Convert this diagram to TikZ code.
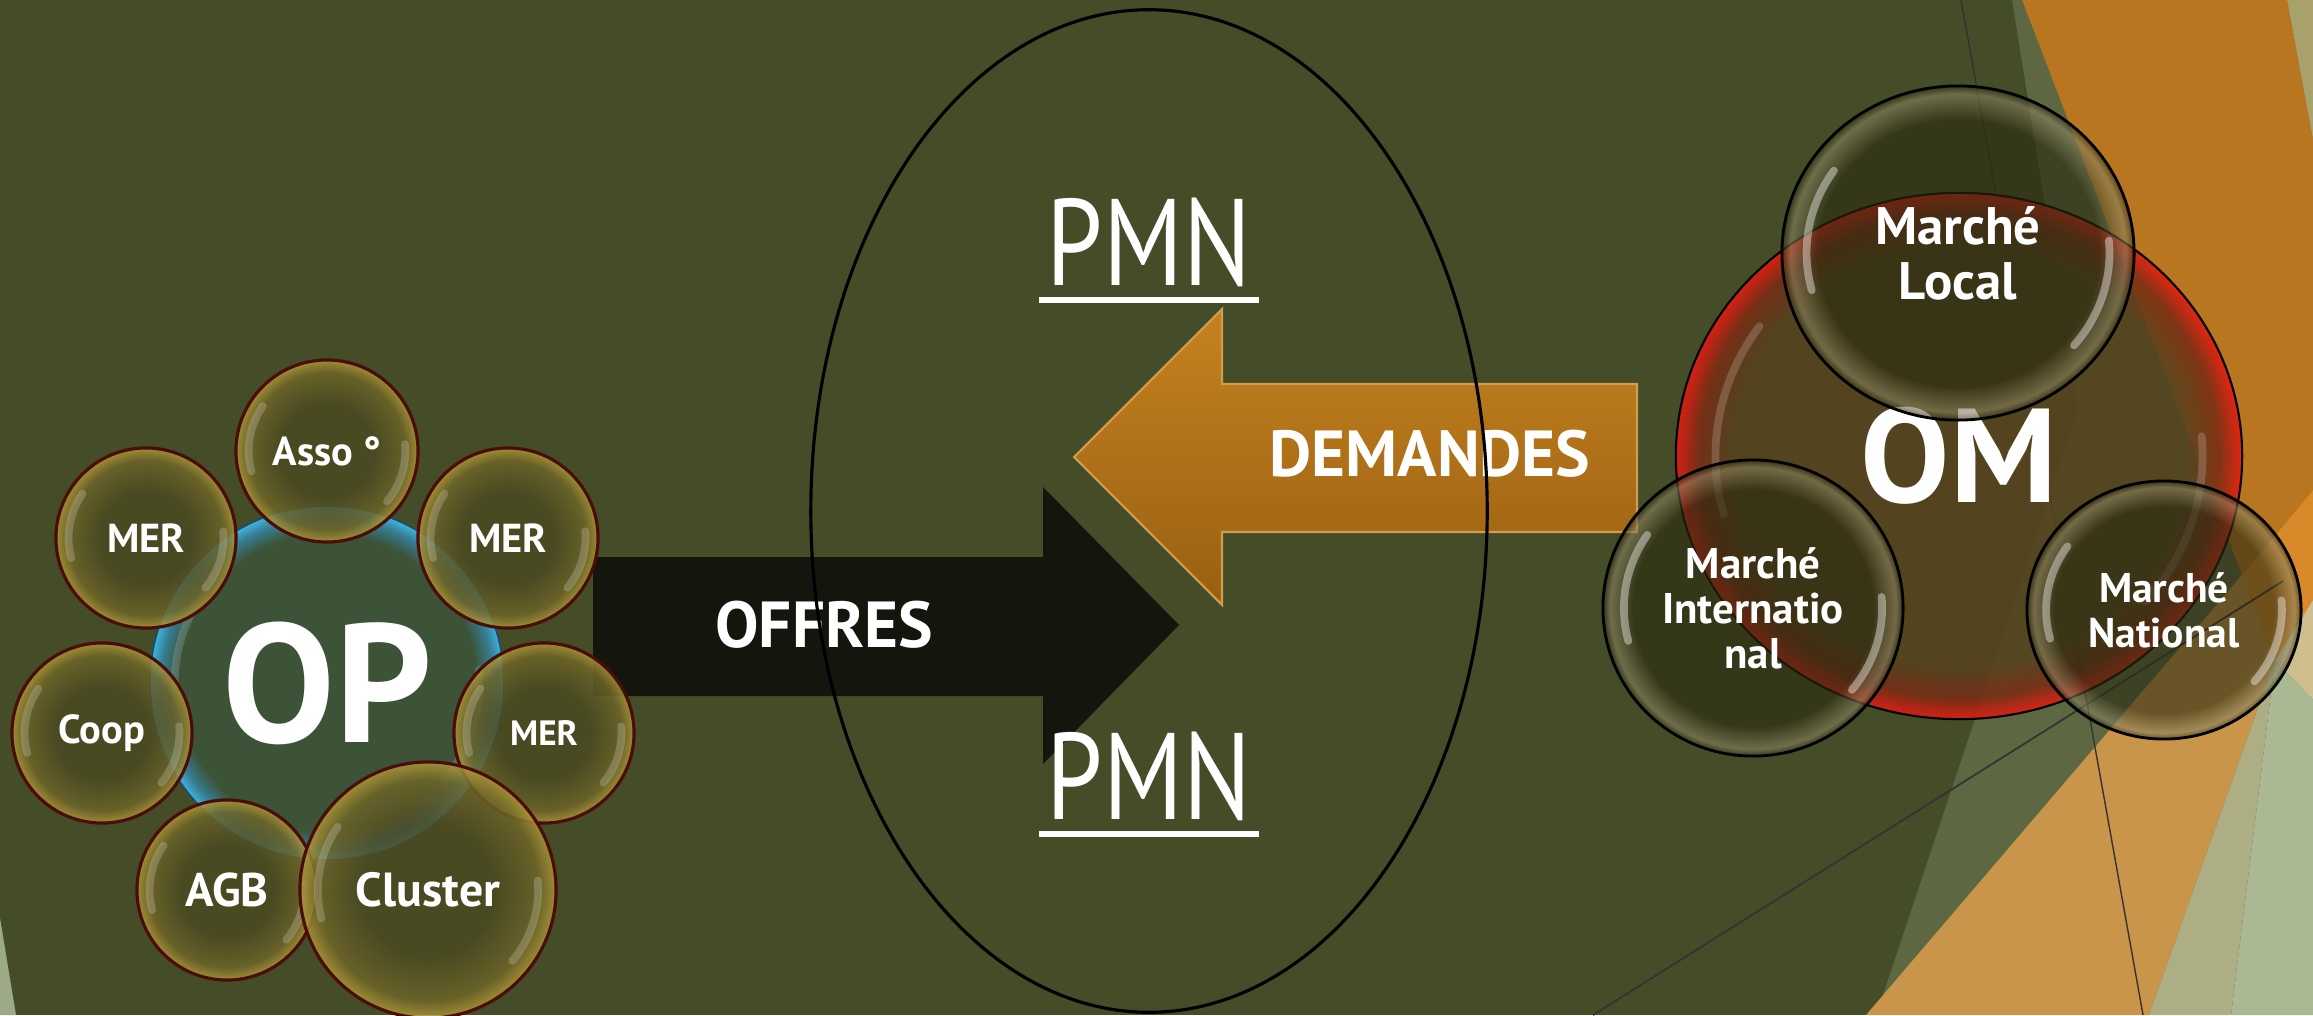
\documentclass[tikz,border=0pt]{standalone}
\usepackage{fontspec}
\usepackage{graphicx}
\setmainfont{PT Sans}
\usetikzlibrary{shapes.geometric, calc}

\definecolor{olivebg}{HTML}{454D28}
\definecolor{sagebg}{HTML}{AAB994}
\definecolor{bandbg}{HTML}{5D6843}
\definecolor{orangetop}{HTML}{B7761F}
\definecolor{orangebot}{HTML}{C9954A}
\definecolor{orangehot}{HTML}{D88A2A}
\definecolor{beigebg}{HTML}{CFBE8E}
\definecolor{khakibg}{HTML}{A9A16C}
\definecolor{greybg}{HTML}{ADAE83}
\definecolor{offrecol}{HTML}{14160D}
\definecolor{demtop}{HTML}{C48320}
\definecolor{demmid}{HTML}{AE6D15}
\definecolor{dembot}{HTML}{9A5E10}
\definecolor{bubin}{HTML}{4B4A22}
\definecolor{bubmid}{HTML}{6E6528}
\definecolor{bubrim}{HTML}{A89236}
\definecolor{bubedge}{HTML}{4A0D0A}
\definecolor{opin}{HTML}{3D5337}
\definecolor{opmid}{HTML}{357D92}
\definecolor{oprim}{HTML}{40B0DA}
\definecolor{omin}{HTML}{55421E}
\definecolor{ommid}{HTML}{7A2C14}
\definecolor{omrim}{HTML}{E01C12}
\definecolor{mkin}{HTML}{2A2A10}
\definecolor{mkrim}{HTML}{8A8462}

\pgfdeclareradialshading{goldglass}{\pgfpoint{0bp}{0bp}}{color(0bp)=(bubin); color(13bp)=(bubin); color(21.5bp)=(bubmid); color(24.6bp)=(bubrim); color(50bp)=(bubrim)}
\pgfdeclareradialshading{opglass}{\pgfpoint{0bp}{0bp}}{color(0bp)=(opin); color(21bp)=(opin); color(23.4bp)=(opmid); color(24.9bp)=(oprim); color(50bp)=(oprim)}
\pgfdeclareradialshading{omglass}{\pgfpoint{0bp}{0bp}}{color(0bp)=(omin); color(20bp)=(omin); color(23bp)=(ommid); color(24.8bp)=(omrim); color(50bp)=(omrim)}
\pgfdeclareradialshading{mktglass}{\pgfpoint{0bp}{0bp}}{color(0bp)=(mkin); color(20bp)=(mkin); color(23.8bp)=(mkrim); color(25bp)=(mkin); color(50bp)=(mkin)}

\begin{document}
\begin{tikzpicture}[x=0.01cm, y=-0.01cm,
    shine/.style={path picture={
      \draw[white, opacity=#1, line width=2.2pt, line cap=round]
        let \p1=(path picture bounding box.north east), \p2=(path picture bounding box.center),
            \n1={0.86*(\x1-\x2)}, \n2={0.86*(\y1-\y2)} in
        ($(\p2)+(145:\n1 and \n2)$) arc[start angle=145, end angle=195, x radius=\n1, y radius=\n2]
        ($(\p2)+(-40:\n1 and \n2)$) arc[start angle=-40, end angle=5, x radius=\n1, y radius=\n2];}},
    goldbub/.style={circle, minimum size=1.8cm, shade, shading=goldglass, fill opacity=0.85, text opacity=1,
      draw=bubedge, line width=0.9pt, text=white, shine=0.2, font=\bfseries\fontsize{11.5}{13}\selectfont},
    mktbub/.style={ellipse, shade, shading=mktglass, fill opacity=0.6, text opacity=1,
      draw=black, line width=0.8pt, text=white, align=center, shine=0.4},
    bigword/.style={text=white, font=\bfseries\fontsize{18.5}{20}\selectfont, anchor=base},
    pmnword/.style={text=white, font=\fontsize{35}{40}\selectfont, anchor=base, inner sep=0pt}]
  \useasboundingbox (0,0) rectangle (2313,1015);
  \fill[olivebg] (0,0) rectangle (2313,1015);
  \fill[sagebg!92!black] (0,918) -- (16,1015) -- (0,1015) -- cycle;
  \fill[bandbg] (2012,0) -- (2022,0) -- (2242,575) -- (1878,1010) -- (2078,410) -- cycle;
  \fill[orangetop] (2022,0) -- (2287,0) -- (2313,140) -- (2313,490) -- (2242,575) -- cycle;
  \fill[khakibg] (2287,0) -- (2313,0) -- (2313,140) -- cycle;
  \fill[orangehot] (2242,575) -- (2313,490) -- (2313,600) -- (2275,660) -- cycle;
  \fill[beigebg] (2275,660) -- (2313,600) -- (2313,700) -- cycle;
  \fill[orangebot] (1866,1015) -- (2242,575) -- (2275,660) -- (2149,1015) -- cycle;
  \fill[greybg] (2149,1015) -- (2275,660) -- (2231,1015) -- cycle;
  \fill[sagebg] (2231,1015) -- (2275,660) -- (2313,700) -- (2313,1015) -- cycle;
  \draw[black!80, line width=0.4pt] (1961,0) -- (2143,1015);
  \draw[black!80, line width=0.5pt] (1593,1015) -- (2283,581);

  \fill[offrecol] (593,557) -- (1043,557) -- (1043,487) -- (1179,625) -- (1043,764) -- (1043,696) -- (593,696) -- cycle;
  \shade[top color=demtop, middle color=demmid, bottom color=dembot, draw=demtop!80!white, line width=0.6pt]
    (1637,384) -- (1222,384) -- (1222,309) -- (1074,457) -- (1222,605) -- (1222,532) -- (1637,532) -- cycle;
  \node[bigword] (offres) at (824,647) {OFFRES};
  \node[bigword] (demandes) at (1430,476) {DEMANDES};

  \node[ellipse, draw=black, line width=0.9pt, minimum width=6.76cm, minimum height=10.02cm] (zone) at (1149,511) {};
  \node[pmnword] (pmnA) at (1149,285) {\scalebox{0.82}[1]{PMN}};
  \node[pmnword] (pmnB) at (1149,819) {\scalebox{0.82}[1]{PMN}};
  \draw[white, line width=1.7pt] ([xshift=-2pt,yshift=-4.3pt]pmnA.base west) -- ([xshift=2pt,yshift=-4.3pt]pmnA.base east);
  \draw[white, line width=1.7pt] ([xshift=-2pt,yshift=-4.3pt]pmnB.base west) -- ([xshift=2pt,yshift=-4.3pt]pmnB.base east);

  \node[circle, minimum size=3.54cm, shade, shading=opglass, draw=oprim!45!black, line width=0.5pt, shine=0.15,
    text=white, font=\bfseries\fontsize{48}{50}\selectfont] (op) at (327,683) {OP};
  \node[goldbub, minimum size=1.82cm] (asso) at (327,451) {Asso °};
  \node[goldbub] (merA) at (146,538) {MER};
  \node[goldbub] (merB) at (508,538) {MER};
  \node[goldbub] (coop) at (102,733) {Coop};
  \node[goldbub, font=\bfseries\fontsize{10}{12}\selectfont] (merC) at (544,733) {MER};
  \node[goldbub, font=\bfseries\fontsize{13.4}{15}\selectfont] (agb) at (227,890) {AGB};
  \node[goldbub, minimum size=2.56cm, font=\bfseries\fontsize{13.6}{15}\selectfont] (cluster) at (428,890) {Cluster};

  \node[ellipse, minimum width=5.66cm, minimum height=5.26cm, shade, shading=omglass, fill opacity=0.88, text opacity=1,
    draw=black, line width=0.6pt, shine=0.18, text=white, font=\bfseries\fontsize{38}{40}\selectfont] (om) at (1959,456) {OM};
  \node[mktbub, minimum width=3.52cm, minimum height=3.34cm, font=\bfseries\fontsize{15}{15.6}\selectfont] (local) at (1958,253) {Marché\\Local};
  \node[mktbub, minimum width=3.0cm, minimum height=2.96cm, font=\bfseries\fontsize{12.2}{12.8}\selectfont] (inter) at (1753,608) {Marché\\Internatio\\nal};
  \node[mktbub, minimum width=2.74cm, minimum height=2.58cm, font=\bfseries\fontsize{11.8}{12.8}\selectfont] (national) at (2164,610) {Marché\\National};
\end{tikzpicture}
\end{document}
